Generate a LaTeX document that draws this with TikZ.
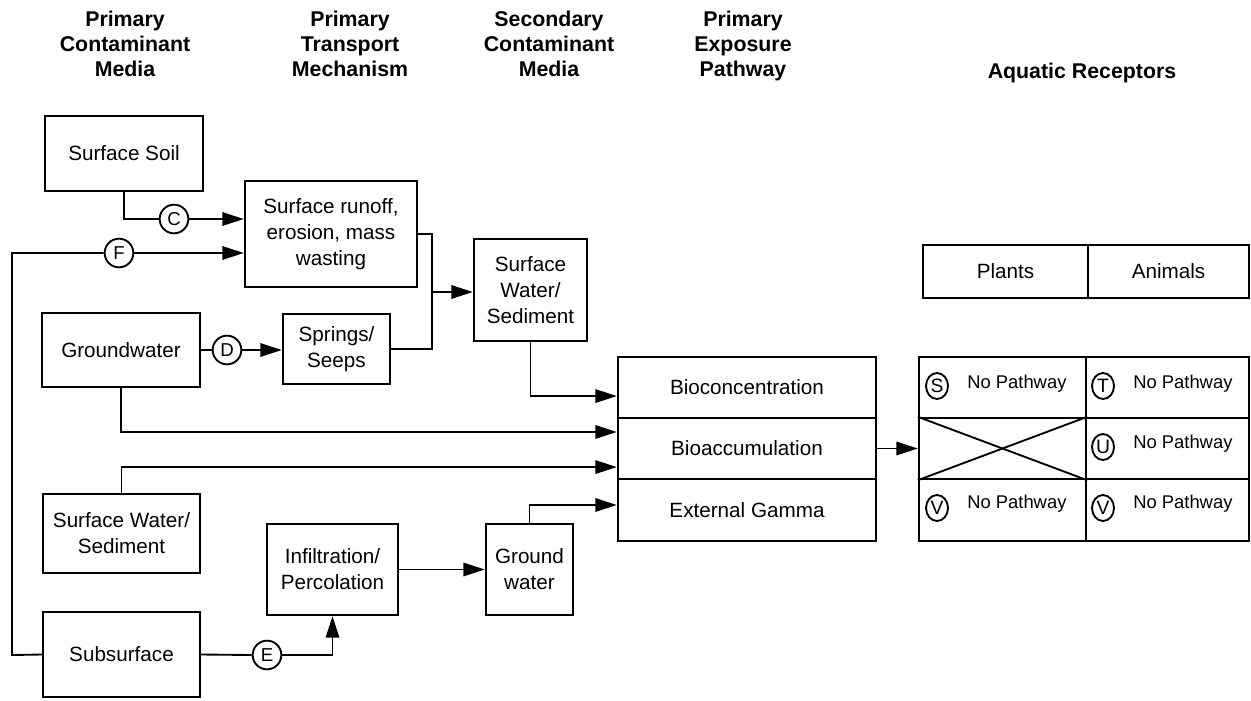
\documentclass[tikz,border=0pt]{standalone}
\usepackage{fontspec}
\setmainfont{Liberation Sans}
\usetikzlibrary{arrows.meta,shapes.geometric}

% box from corner (x1,y1) to (x2,y2): \bx{name}{x1}{y1}{x2}{y2}{text}
\newcommand\bx[6]{%
  \node[box, minimum width={(#4-#2)*0.75pt}, minimum height={(#5-#3)*0.75pt}]
    (#1) at ({(#2+#4)/2},{(#3+#5)/2}) {#6};}

\begin{document}
\begin{tikzpicture}[x=0.75pt,y=-0.75pt,
  box/.style={draw, line width=1.8pt, align=center, inner sep=0pt,
    font=\fontsize{15.5}{19.5}\selectfont},
  head/.style={anchor=north, align=center, font=\bfseries\fontsize{16}{19}\selectfont},
  flow/.style={line width=1.4pt},
  arr/.style={flow, -{Triangle[length=16pt,width=10pt]}},
  tag/.style={draw, circle, line width=1.4pt, inner sep=0pt,
    minimum size=21.5pt, font=\fontsize{14}{14}\selectfont},
  mini/.style={draw, ellipse, line width=1.4pt, inner sep=0pt,
    minimum width=16.5pt, minimum height=19.5pt, font=\fontsize{14.5}{14.5}\selectfont},
  note/.style={anchor=west, inner sep=0pt, font=\fontsize{13.8}{16}\selectfont}
]
\useasboundingbox (0,0) rectangle (1251,700);

% column headings
\node[head] (h1) at (125,6) {Primary\\Contaminant\\Media};
\node[head] (h2) at (350,6) {Primary\\Transport\\Mechanism};
\node[head] (h3) at (549,6) {Secondary\\Contaminant\\Media};
\node[head] (h4) at (743,6) {Primary\\Exposure\\Pathway};
\node[head] (h5) at (1082,58) {Aquatic Receptors};

% primary media
\bx{soil}{45}{116}{203}{191}{Surface Soil}
\bx{gw}{42}{313}{200}{387}{Groundwater}
\bx{swp}{43}{494}{200}{573}{Surface Water/\\Sediment}
\bx{sub}{43}{612}{200}{697}{Subsurface}

% transport mechanisms
\bx{runoff}{245}{181}{417}{287}{Surface runoff,\\erosion, mass\\wasting}
\bx{springs}{283}{314}{390}{384}{Springs/\\Seeps}
\bx{infil}{267}{524}{398}{615}{Infiltration/\\Percolation}

% secondary media
\bx{sws}{474}{239}{587}{341}{Surface\\Water/\\Sediment}
\bx{gws}{486}{524}{573}{615}{Ground\\water}

% exposure pathways
\bx{bc}{618}{357}{876}{418}{Bioconcentration}
\bx{ba}{618}{418}{876}{479}{Bioaccumulation}
\bx{eg}{618}{479}{876}{541}{External Gamma}

% receptors
\bx{plants}{923}{245}{1088}{298}{Plants}
\bx{animals}{1088}{245}{1249}{298}{Animals}
\bx{g11}{919}{357}{1086}{418}{}
\bx{g12}{1086}{357}{1249}{418}{}
\bx{g21}{919}{418}{1086}{479}{}
\bx{g22}{1086}{418}{1249}{479}{}
\bx{g31}{919}{479}{1086}{541}{}
\bx{g32}{1086}{479}{1249}{541}{}
\draw[flow] (g21.north west) -- (g21.south east);
\draw[flow] (g21.south west) -- (g21.north east);

\node[mini] (S) at (937,386) {S};
\node[note] (nS) at (967,384) {No Pathway};
\node[mini] (T) at (1103,386) {T};
\node[note] (nT) at (1133,384) {No Pathway};
\node[mini] (U) at (1103,447) {U};
\node[note] (nU) at (1133,444) {No Pathway};
\node[mini] (V1) at (937,508) {V};
\node[note] (nV1) at (967,504) {No Pathway};
\node[mini] (V2) at (1103,508) {V};
\node[note] (nV2) at (1133,504) {No Pathway};

% pathway tags
\node[tag] (C) at (174,219) {C};
\node[tag] (F) at (119,253) {F};
\node[tag] (D) at (227,350) {D};
\node[tag] (E) at (267,655) {E};

% connectors
\draw[flow] (soil.south) |- (C.west);
\draw[arr] (C.east) -- (C.east -| runoff.west);

\coordinate (fbend) at (12,655);
\draw[flow] (sub.west) -- (fbend) |- (F.west);
\draw[arr] (F.east) -- (F.east -| runoff.west);

\draw[flow] (gw.east) -- (D.west);
\draw[arr] (D.east) -- (D.east -| springs.west);

\coordinate (jn) at (432,292);
\draw[flow] (runoff.east) -| (jn) |- (springs.east);
\draw[arr] (jn) -- (jn -| sws.west);

\draw[arr] (sws.south) |- ([yshift=-6.4pt]bc.west);
\draw[arr] (gw.south) |- ([yshift=12.4pt]ba.west);
\draw[arr] (swp.north) |- ([yshift=-13.9pt]ba.west);
\draw[arr] (gws.north) |- ([yshift=3.75pt]eg.west);

\draw[arr] (infil.east) -- (gws.west);
\draw[flow] (sub.east) -- (E.west);
\draw[arr] (E.east) -| (infil.south);

\draw[arr] (ba.east) -- (g21.west);
\end{tikzpicture}
\end{document}
